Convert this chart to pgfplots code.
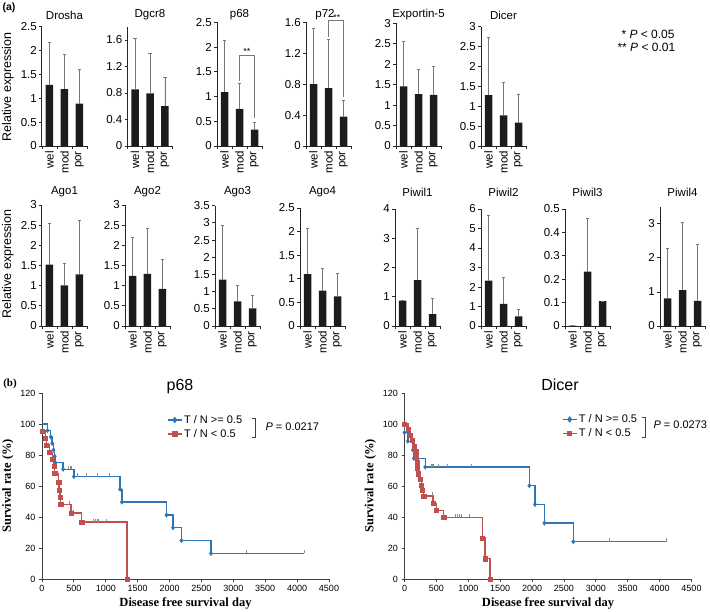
\documentclass[border=0pt]{standalone}
\usepackage{fontspec}
\setmainfont{Liberation Sans}
\newfontfamily\tnr{Liberation Serif}
\usepackage{pgfplots}
\pgfplotsset{compat=1.18}
\definecolor{kmblue}{RGB}{46,117,182}
\definecolor{kmred}{RGB}{192,80,77}
\definecolor{barfill}{RGB}{28,28,28}
\definecolor{errgray}{RGB}{120,120,120}
\pgfdeclareplotmark{cens}{\pgfpathmoveto{\pgfpoint{0pt}{0pt}}\pgfpathlineto{\pgfpoint{0pt}{\pgfplotmarksize}}\pgfusepathqstroke}
\pgfplotsset{
 barax/.style={scale only axis, anchor=south west, width=45pt, xmin=0, xmax=3, ymin=0,
   axis x line=bottom, axis y line=left, axis line style={-, line width=1pt, black!85},
   xtick={0,1,2,3}, xticklabels={wel,mod,por}, x tick label as interval,
   x tick label style={rotate=90, anchor=east, font=\fontsize{11.5}{13}\selectfont, inner sep=2pt},
   y tick label style={font=\fontsize{11.5}{13}\selectfont, inner sep=2pt},
   tick align=outside, major tick length=3pt, tick style={black!85, line width=0.8pt},
   /pgf/number format/assume math mode=true, /pgf/number format/fixed,
   scaled y ticks=false, clip=false},
 barst/.style={ybar, bar width=7.5pt, fill=barfill, draw=none,
   error bars/.cd, y dir=plus, y explicit,
   error bar style={errgray, line width=0.8pt},
   error mark options={errgray, rotate=90, mark size=1.6pt, line width=0.8pt}},
 kmax/.style={scale only axis, anchor=south west, width=287pt, height=186pt,
   xmin=0, xmax=4500, ymin=0, ymax=120,
   axis x line=bottom, axis y line=left, axis line style={-, black!75, line width=0.8pt},
   xtick={0,500,1000,1500,2000,2500,3000,3500,4000,4500}, ytick={0,20,40,60,80,100,120},
   tick align=outside, major tick length=3pt, tick style={black!75, line width=0.8pt},
   tick label style={font=\fontsize{9}{10}\selectfont},
   /pgf/number format/assume math mode=true, /pgf/number format/1000 sep={},
   scaled x ticks=false,
   xlabel style={font=\tnr\bfseries\fontsize{12.5}{14}\selectfont, yshift=1pt},
   ylabel style={font=\tnr\bfseries\fontsize{12.5}{14}\selectfont},
   legend image code/.code={\draw[mark repeat=2,mark phase=2,##1] plot coordinates {(0pt,0pt) (7pt,0pt) (14pt,0pt)};},
   clip=false},
}
\newcommand{\bp}[7]{%
\begin{axis}[barax, at={(#1pt,-#2pt)}, height=#3pt, ymax=#4, ytick={#5}]
\addplot[barst] coordinates {#6};
#7
\end{axis}}
\begin{document}
\begin{tikzpicture}
\useasboundingbox (0pt,0pt) rectangle (710pt,-611pt);
\node[font=\bfseries\fontsize{10.5}{12}\selectfont] at (9pt,-8pt) {(a)};
\node[rotate=90, font=\fontsize{12.5}{14}\selectfont] at (8pt,-87pt) {Relative expression};
\node[rotate=90, font=\fontsize{12.5}{14}\selectfont] at (8pt,-264pt) {Relative expression};
% titles
\begin{scope}[every node/.style={font=\fontsize{11.5}{13}\selectfont}]
\node at (64.5pt,-15pt) {Drosha};
\node at (150pt,-15pt) {Dgcr8};
\node at (239.5pt,-15pt) {p68};
\node at (325pt,-15pt) {p72};
\node at (418.5pt,-15pt) {Exportin-5};
\node at (503.5pt,-15pt) {Dicer};
\node at (64.5pt,-192pt) {Ago1};
\node at (147.5pt,-192pt) {Ago2};
\node at (237.5pt,-192pt) {Ago3};
\node at (322.5pt,-192pt) {Ago4};
\node at (417.5pt,-192pt) {Piwil1};
\node at (503.5pt,-192pt) {Piwil2};
\node at (587.5pt,-192pt) {Piwil3};
\node at (682.5pt,-192pt) {Piwil4};
\end{scope}
\node[anchor=west, font=\fontsize{12}{13}\selectfont] at (618pt,-34pt) {* \textit{P} < 0.05};
\node[anchor=west, font=\fontsize{12}{13}\selectfont] at (614pt,-47pt) {** \textit{P} < 0.01};
% row 1
\bp{42}{146}{119.3}{2.5}{0,0.5,1,1.5,2,2.5}{(0.5,1.28) +- (0,0.89) (1.5,1.19) +- (0,0.72) (2.5,0.89) +- (0,0.71)}{}
\bp{127.5}{146}{119.3}{1.8}{0,0.4,0.8,1.2,1.6}{(0.5,0.855) +- (0,0.77) (1.5,0.795) +- (0,0.595) (2.5,0.60) +- (0,0.43)}{}
\bp{217}{146}{123.7}{2.5}{0,0.5,1,1.5,2,2.5}{(0.5,1.09) +- (0,1.05) (1.5,0.75) +- (0,0.51) (2.5,0.33) +- (0,0.15)}{%
\draw[errgray, line width=0.7pt] (axis cs:1.5,1.31) -- (axis cs:1.5,1.83) -- (axis cs:2.5,1.83) -- (axis cs:2.5,0.56);
\node[anchor=south, inner sep=0.5pt, font=\fontsize{9}{10}\selectfont] at (axis cs:2,1.83) {**};}
\bp{306}{146}{123.7}{1.6}{0,0.4,0.8,1.2,1.6}{(0.5,0.80) +- (0,0.72) (1.5,0.75) +- (0,0.63) (2.5,0.38) +- (0,0.21)}{%
\draw[errgray, line width=0.7pt] (axis cs:1.5,1.41) -- (axis cs:1.5,1.62) -- (axis cs:2.5,1.62) -- (axis cs:2.5,0.64);
\node[anchor=south, inner sep=0.3pt, font=\fontsize{8.5}{9}\selectfont] at (axis cs:2.05,1.62) {**};}
\bp{396}{146}{122.7}{3}{0,0.5,1,1.5,2,2.5,3}{(0.5,1.46) +- (0,1.09) (1.5,1.27) +- (0,0.60) (2.5,1.25) +- (0,0.69)}{}
\bp{481}{146}{119.3}{3}{0,0.5,1,1.5,2,2.5,3}{(0.5,1.28) +- (0,1.45) (1.5,0.77) +- (0,0.84) (2.5,0.59) +- (0,0.72)}{}
% row 2
\bp{42}{326}{121}{3}{0,0.5,1,1.5,2,2.5,3}{(0.5,1.52) +- (0,1.03) (1.5,1.01) +- (0,0.54) (2.5,1.28) +- (0,1.35)}{}
\bp{125}{326}{121}{3}{0,0.5,1,1.5,2,2.5,3}{(0.5,1.24) +- (0,0.95) (1.5,1.29) +- (0,1.14) (2.5,0.92) +- (0,0.73)}{}
\bp{215}{326}{120.3}{3.5}{0,0.5,1,1.5,2,2.5,3,3.5}{(0.5,1.35) +- (0,1.58) (1.5,0.72) +- (0,0.45) (2.5,0.51) +- (0,0.37)}{}
\bp{300}{326}{118}{2.5}{0,0.5,1,1.5,2,2.5}{(0.5,1.10) +- (0,0.97) (1.5,0.75) +- (0,0.47) (2.5,0.63) +- (0,0.49)}{}
\bp{395}{326}{117}{4}{0,1,2,3,4}{(0.5,0.87) +- (0,0.02) (1.5,1.57) +- (0,1.78) (2.5,0.41) +- (0,0.52)}{}
\bp{481}{326}{117}{6}{0,1,2,3,4,5,6}{(0.5,2.33) +- (0,3.34) (1.5,1.14) +- (0,1.33) (2.5,0.50) +- (0,0.33)}{}
\bp{565}{326}{117}{0.5}{0,0.1,0.2,0.3,0.4,0.5}{(0.5,0.002) +- (0,0) (1.5,0.232) +- (0,0.228) (2.5,0.106) +- (0,0)}{}
\bp{660}{326}{119.3}{3.5}{0,1,2,3}{(0.5,0.81) +- (0,1.46) (1.5,1.05) +- (0,2.0) (2.5,0.74) +- (0,1.64)}{}
% (b)
\node[font=\tnr\bfseries\fontsize{11}{12}\selectfont] at (10pt,-384pt) {(b)};
\node[font=\fontsize{16}{18}\selectfont] at (180pt,-387pt) {p68};
\node[font=\fontsize{16}{18}\selectfont] at (560pt,-385pt) {Dicer};
% KM p68
\begin{axis}[kmax, at={(42pt,-579pt)}, xlabel={Disease free survival day}, ylabel={Survival rate (\%)},
  legend style={draw=none, fill=none, at={(0.435,0.89)}, anchor=north west, font=\fontsize{11}{12}\selectfont, row sep=1.5pt, inner sep=0pt, nodes={inner sep=1.6pt}}, legend cell align=left]
\addplot[kmblue, line width=1.4pt, const plot mark left, forget plot] coordinates {(0,100) (85,95.8) (137,91.7) (159,87.5) (180,83.3) (200,79.2) (210,75) (331,70.8) (500,66.1) (1225,57.9) (1252,49.6) (1951,41.3) (2055,33.1) (2185,24.8) (2650,16.5) (4110,16.5)};
\addplot[kmred, line width=1.4pt, const plot mark left, forget plot] coordinates {(0,95.5) (53,90.9) (69,86.4) (116,81.8) (163,77.3) (189,72.7) (200,68.2) (263,62.5) (268,57.5) (284,52.8) (294,48.1) (453,42.5) (621,36.7) (1330,0)};
\addplot[only marks, mark=cens, mark size=3.5pt, black!45, line width=0.6pt, forget plot] coordinates {(420,70.8) (440,70.8) (460,70.8) (550,66.1) (690,66.1) (865,66.1) (1050,66.1) (3200,16.5) (4110,16.5) (432,48.1) (494,42.5) (800,36.7) (830,36.7) (860,36.7) (890,36.7) (1015,36.7)};
\addplot[only marks, mark=diamond*, mark size=2.2pt, kmblue, forget plot] coordinates {(85,95.8) (137,91.7) (159,87.5) (180,83.3) (200,79.2) (210,75) (331,70.8) (500,66.1) (1225,57.9) (1252,49.6) (1951,41.3) (2055,33.1) (2185,24.8) (2650,16.5)};
\addplot[only marks, mark=square*, mark size=2.1pt, kmred, forget plot] coordinates {(0,95.5) (53,90.9) (69,86.4) (116,81.8) (163,77.3) (189,72.7) (200,68.2) (263,62.5) (268,57.5) (284,52.8) (294,48.1) (453,42.5) (621,36.7) (1330,0)};
\addlegendimage{kmblue, line width=1.4pt, mark=diamond*, mark size=2.2pt}
\addlegendentry{T / N >= 0.5}
\addlegendimage{kmred, line width=1.4pt, mark=square*, mark size=2.1pt}
\addlegendentry{T / N < 0.5}
\end{axis}
\draw[black!75, line width=0.8pt] (252pt,-418pt) -- (255pt,-418pt) -- (255pt,-437pt) -- (252pt,-437pt);
\node[anchor=west, font=\fontsize{11}{12}\selectfont] at (262pt,-427pt) {\textit{P} = 0.0217};
% KM Dicer
\begin{axis}[kmax, at={(404.5pt,-579pt)}, xlabel={Disease free survival day}, ylabel={Survival rate (\%)},
  legend style={draw=none, fill=none, at={(0.548,0.893)}, anchor=north west, font=\fontsize{11}{12}\selectfont, row sep=1.5pt, inner sep=0pt, nodes={inner sep=1.6pt}}, legend cell align=left]
\addplot[kmblue, line width=1.4pt, const plot mark left, forget plot] coordinates {(0,100) (0,94.4) (52,88.9) (131,83.3) (147,77.8) (325,72.2) (1958,60.2) (2046,48.1) (2193,36.1) (2647,24.1) (4108,24.1)};
\addplot[kmred, line width=1.4pt, const plot mark left, forget plot] coordinates {(0,100) (52,96.4) (89,92.9) (116,89.3) (158,85.7) (174,82.1) (189,78.6) (194,75) (200,71.4) (210,67.9) (252,64.3) (263,60.7) (278,57.1) (300,53.6) (446,48.9) (499,44.2) (614,39.7) (1224,26.4) (1261,13.1) (1340,0)};
\addplot[only marks, mark=cens, mark size=3.5pt, black!45, line width=0.6pt, forget plot] coordinates {(420,72.2) (435,72.2) (450,72.2) (536,72.2) (672,72.2) (1050,72.2) (3205,24.1) (4108,24.1) (430,53.6) (800,39.7) (830,39.7) (860,39.7) (890,39.7) (1009,39.7)};
\addplot[only marks, mark=diamond*, mark size=2.2pt, kmblue, forget plot] coordinates {(0,94.4) (52,88.9) (131,83.3) (147,77.8) (325,72.2) (1958,60.2) (2046,48.1) (2193,36.1) (2647,24.1)};
\addplot[only marks, mark=square*, mark size=2.1pt, kmred, forget plot] coordinates {(0,100) (52,96.4) (89,92.9) (116,89.3) (158,85.7) (174,82.1) (189,78.6) (194,75) (200,71.4) (210,67.9) (252,64.3) (263,60.7) (278,57.1) (300,53.6) (446,48.9) (499,44.2) (614,39.7) (1224,26.4) (1261,13.1) (1340,0)};
\addlegendimage{kmblue, line width=1.4pt, mark=diamond*, mark size=2.2pt}
\addlegendentry{T / N >= 0.5}
\addlegendimage{kmred, line width=1.4pt, mark=square*, mark size=2.1pt}
\addlegendentry{T / N < 0.5}
\end{axis}
\draw[black!75, line width=0.8pt] (642pt,-417pt) -- (645pt,-417pt) -- (645pt,-437pt) -- (642pt,-437pt);
\node[anchor=west, font=\fontsize{11}{12}\selectfont] at (650pt,-425pt) {\textit{P} = 0.0273};
\end{tikzpicture}
\end{document}
